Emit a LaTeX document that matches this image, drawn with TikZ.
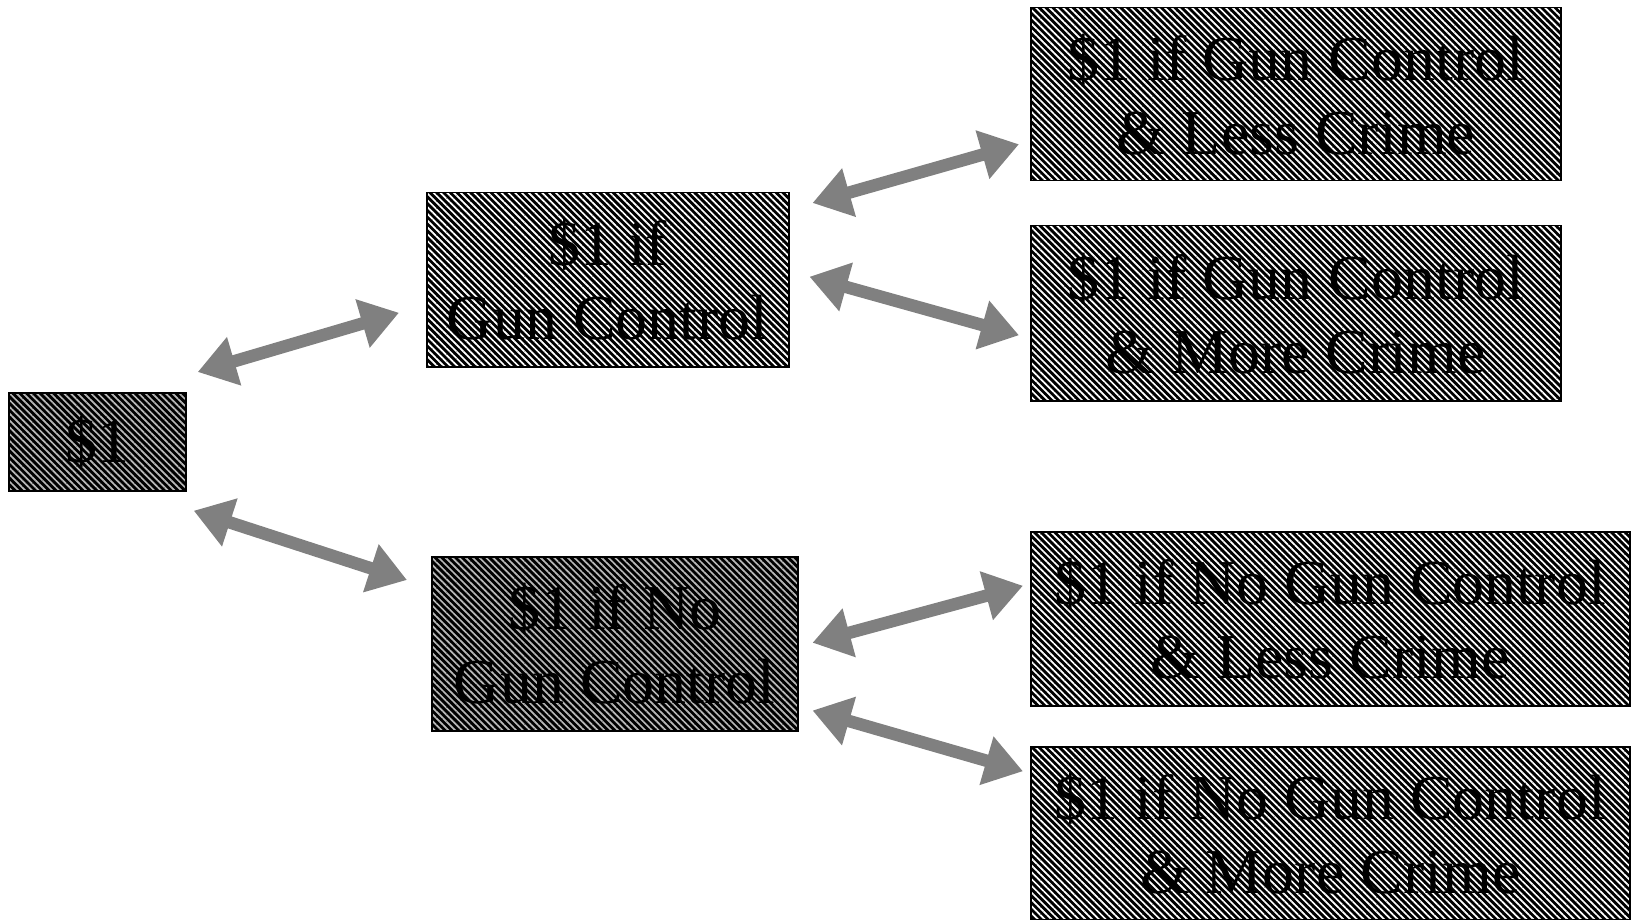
\documentclass[tikz,border=0pt]{standalone}
\usepackage{fontspec}
\setmainfont{Liberation Serif}
\usetikzlibrary{patterns.meta,arrows.meta,calc}

\tikzset{
  box/.style={draw=black, line width=1.5pt, inner sep=0pt, anchor=north west, align=center,
    preaction={fill=black},
    pattern={Lines[angle=-45,distance=4.8pt,line width=1.7pt]}, pattern color=white,
    font=\fontsize{64}{74}\selectfont},
  softbox/.style={box, pattern color=white!72!black},
  link/.style={draw=gray, line width=12.5pt, {Triangle[length=38pt,width=48pt]}-{Triangle[length=38pt,width=48pt]}}
}

\begin{document}
\begin{tikzpicture}[x=1pt,y=-1pt]
\useasboundingbox (0,0) rectangle (1631,920);

% boxes
\node[softbox, minimum width=177pt, minimum height=98pt] (one) at (8,392) {\$1};
\node[box, minimum width=362pt, minimum height=174pt] (gc) at (426,192) {\$1 if\\Gun Control};
\node[softbox, minimum width=366pt, minimum height=174pt] (ngc) at (431,556) {\$1 if No\\Gun Control};
\node[box, minimum width=530pt, minimum height=173pt] (gcl) at (1030,7) {\$1 if Gun Control\\\& Less Crime};
\node[box, minimum width=530pt, minimum height=175pt] (gcm) at (1030,225) {\$1 if Gun Control\\\& More Crime};
\node[box, minimum width=599pt, minimum height=174pt] (ngcl) at (1030,531) {\$1 if No Gun Control\\\& Less Crime};
\node[box, minimum width=599pt, minimum height=173pt] (ngcm) at (1030,746) {\$1 if No Gun Control\\\& More Crime};

% arrows
\draw[link] ($(one.north east)+(11,-20)$) -- ($(gc.west)+(-27,33)$);
\draw[link] ($(one.south east)+(7,19)$) -- ($(ngc.north west)+(-24,24)$);
\draw[link] ($(gc.north east)+(23,11)$) -- ($(gcl.west)+(-11,50)$);
\draw[link] ($(gc.east)+(20,-3)$) -- ($(gcm.west)+(-11,22)$);
\draw[link] ($(ngc.east)+(14,-1)$) -- ($(ngcl.west)+(-7,-33)$);
\draw[link] ($(ngc.south east)+(14,-21)$) -- ($(ngcm.west)+(-7,-62)$);
\end{tikzpicture}
\end{document}
